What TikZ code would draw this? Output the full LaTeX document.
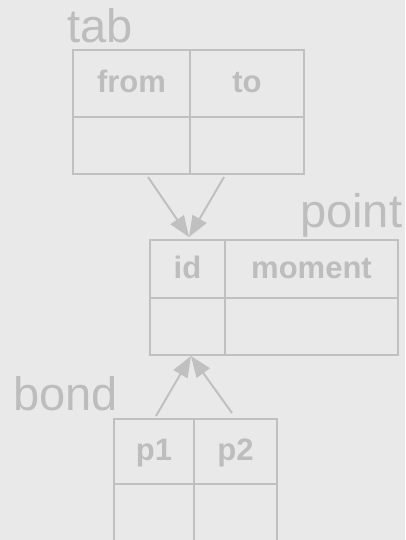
\documentclass[tikz,border=0pt]{standalone}
\usepackage{fontspec}
\setmainfont{Liberation Sans}
\usetikzlibrary{arrows.meta}
\definecolor{bgc}{HTML}{E9E9E9}
\definecolor{linec}{HTML}{C0C0C0}
\definecolor{txtc}{HTML}{BDBDBD}
\begin{document}
\begin{tikzpicture}[x=1pt,y=-1pt,
    cell/.style={draw=linec, line width=2pt, inner sep=0pt, anchor=north west,
      text=txtc, font=\fontsize{31}{31}\selectfont\bfseries, text height=22pt, text depth=4pt},
    title/.style={anchor=base west, inner sep=0pt, text=txtc, font=\fontsize{47}{47}\selectfont},
    fk/.style={draw=linec, line width=2pt, -{Triangle[length=21pt,width=16pt]}}]
  \fill [bgc] (0,0) rectangle (405,540);
  \useasboundingbox (0,0) rectangle (405,540);
  % tab
  \node [title] (tablbl) at (67,43) {tab};
  \node [cell, minimum width=117pt, minimum height=67pt] (tabfrom) at (72,49) {from};
  \node [cell, minimum width=114pt, minimum height=67pt] (tabto) at (189,49) {to};
  \node [cell, minimum width=117pt, minimum height=57pt] (tabfromv) at (72,116) {};
  \node [cell, minimum width=114pt, minimum height=57pt] (tabtov) at (189,116) {};
  % point
  \node [title] (pointlbl) at (300,227) {point};
  \node [cell, minimum width=75pt, minimum height=58pt] (pointid) at (149,239) {id};
  \node [cell, minimum width=173pt, minimum height=58pt] (pointmoment) at (224,239) {moment};
  \node [cell, minimum width=75pt, minimum height=57pt] (pointidv) at (149,297) {};
  \node [cell, minimum width=173pt, minimum height=57pt] (pointmomentv) at (224,297) {};
  % bond
  \node [title] (bondlbl) at (13,410) {bond};
  \node [cell, minimum width=80pt, minimum height=65pt] (bondpa) at (113,418) {p1};
  \node [cell, minimum width=83pt, minimum height=65pt] (bondpb) at (193,418) {p2};
  \node [cell, minimum width=80pt, minimum height=60pt] (bondpav) at (113,483) {};
  \node [cell, minimum width=83pt, minimum height=60pt] (bondpbv) at (193,483) {};
  % references
  \coordinate (pin) at (189,237);
  \coordinate (pout) at (191,356);
  \coordinate (tabout1) at (148,177);
  \coordinate (tabout2) at (224,177);
  \coordinate (bondout1) at (156,416);
  \coordinate (bondout2) at (232,413);
  \draw [fk] (tabout1) -- (pin);
  \draw [fk] (tabout2) -- (pin);
  \draw [fk] (bondout1) -- (pout);
  \draw [fk] (bondout2) -- (pout);
\end{tikzpicture}
\end{document}
